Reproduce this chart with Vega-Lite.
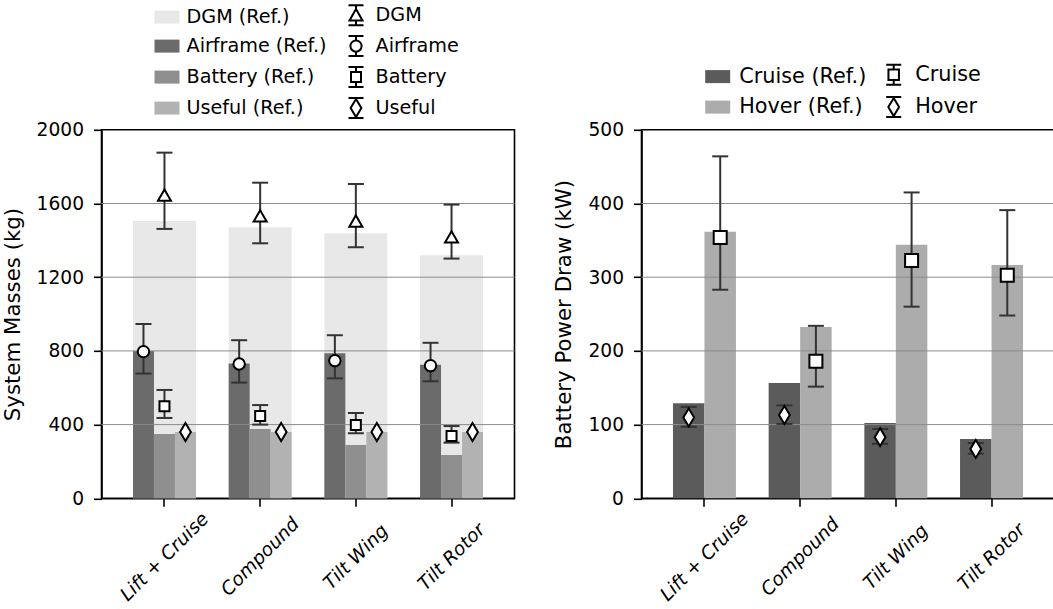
{
  "$schema": "https://vega.github.io/schema/vega-lite/v6.json",
  "background": "white",
  "padding": {"left": 0.5, "top": 0.8, "right": 0, "bottom": 0},
  "spacing": 36,
  "datasets": {
    "mass": [
      {"config": "Lift + Cruise", "comp": "DGM", "ref": 1505, "val": 1645, "lo": 1462, "hi": 1876},
      {"config": "Lift + Cruise", "comp": "Airframe", "ref": 800, "val": 796, "lo": 677, "hi": 946},
      {"config": "Lift + Cruise", "comp": "Battery", "ref": 349, "val": 499, "lo": 436, "hi": 588},
      {"config": "Lift + Cruise", "comp": "Useful", "ref": 360, "val": 360},
      {"config": "Compound", "comp": "DGM", "ref": 1471, "val": 1533, "lo": 1384, "hi": 1713},
      {"config": "Compound", "comp": "Airframe", "ref": 731, "val": 729, "lo": 628, "hi": 858},
      {"config": "Compound", "comp": "Battery", "ref": 376, "val": 447, "lo": 400, "hi": 506},
      {"config": "Compound", "comp": "Useful", "ref": 360, "val": 360},
      {"config": "Tilt Wing", "comp": "DGM", "ref": 1438, "val": 1505, "lo": 1362, "hi": 1706},
      {"config": "Tilt Wing", "comp": "Airframe", "ref": 787, "val": 747, "lo": 651, "hi": 885},
      {"config": "Tilt Wing", "comp": "Battery", "ref": 289, "val": 398, "lo": 353, "hi": 463},
      {"config": "Tilt Wing", "comp": "Useful", "ref": 360, "val": 360},
      {"config": "Tilt Rotor", "comp": "DGM", "ref": 1319, "val": 1419, "lo": 1301, "hi": 1594},
      {"config": "Tilt Rotor", "comp": "Airframe", "ref": 725, "val": 720, "lo": 635, "hi": 844},
      {"config": "Tilt Rotor", "comp": "Battery", "ref": 235, "val": 338, "lo": 302, "hi": 392},
      {"config": "Tilt Rotor", "comp": "Useful", "ref": 360, "val": 360}
    ],
    "power": [
      {"config": "Lift + Cruise", "mode": "Cruise", "ref": 129, "val": 109.5, "lo": 97, "hi": 124},
      {"config": "Lift + Cruise", "mode": "Hover", "ref": 361.5, "val": 354, "lo": 283, "hi": 464},
      {"config": "Compound", "mode": "Cruise", "ref": 156.5, "val": 113, "lo": 101, "hi": 126},
      {"config": "Compound", "mode": "Hover", "ref": 232.5, "val": 186, "lo": 151.5, "hi": 234},
      {"config": "Tilt Wing", "mode": "Cruise", "ref": 102, "val": 83, "lo": 74, "hi": 94},
      {"config": "Tilt Wing", "mode": "Hover", "ref": 344, "val": 322.5, "lo": 260, "hi": 415},
      {"config": "Tilt Rotor", "mode": "Cruise", "ref": 80.5, "val": 67, "lo": 60.5, "hi": 75},
      {"config": "Tilt Rotor", "mode": "Hover", "ref": 316.5, "val": 302.7, "lo": 248, "hi": 391}
    ],
    "massGrid": [{"value": 400}, {"value": 800}, {"value": 1200}, {"value": 1600}],
    "powerGrid": [{"value": 100}, {"value": 200}, {"value": 300}, {"value": 400}]
  },
  "resolve": {
    "scale": {"fill": "independent", "stroke": "independent", "shape": "independent", "xOffset": "independent"},
    "legend": {"fill": "independent", "stroke": "independent", "shape": "independent"}
  },
  "hconcat": [
    {
      "width": 413,
      "height": 368.5,
      "data": {"name": "mass"},
      "layer": [
        {
          "transform": [{"filter": "datum.comp == 'DGM'"}],
          "mark": {"type": "bar", "width": {"band": 0.658}, "opacity": 1},
          "encoding": {
            "x": {"field": "config", "type": "nominal", "title": null, "scale": {"domain": ["Lift + Cruise", "Compound", "Tilt Wing", "Tilt Rotor"], "paddingInner": 0, "paddingOuter": 0.158}, "axis": {"labelAngle": -45, "labelAlign": "center", "labelBaseline": "middle", "labelPadding": 50, "labelFontStyle": "italic", "labelOverlap": false, "labelBound": false, "labelFlush": false}},
            "y": {"field": "ref", "type": "quantitative", "title": "System Masses (kg)", "stack": null, "scale": {"domain": [0, 2000], "nice": false}, "axis": {"values": [0, 400, 800, 1200, 1600, 2000], "format": "d"}},
            "fill": {"field": "comp", "type": "nominal", "scale": {"domain": ["DGM", "Airframe", "Battery", "Useful", "DGM ", "Airframe ", "Battery ", "Useful "], "range": ["#e8e8e8", "#6b6b6b", "#8f8f8f", "#b2b2b2", "white", "white", "white", "white"]},
              "legend": {"orient": "none", "legendX": 52, "legendY": -128.2, "columns": 2, "title": null, "labelExpr": "test(/ $/, datum.label) ? trim(datum.label) : datum.label + ' (Ref.)'", "symbolSize": 625, "symbolStrokeWidth": 2, "symbolFillColor": "white", "symbolStrokeColor": "black", "labelFontSize": 19.2, "labelOffset": 6, "columnPadding": 15, "rowPadding": 2, "padding": 0}}
          }
        },
        {
          "transform": [{"filter": "datum.comp != 'DGM'"}],
          "mark": {"type": "bar", "opacity": 1},
          "encoding": {
            "x": {"field": "config", "type": "nominal", "title": null, "scale": {"domain": ["Lift + Cruise", "Compound", "Tilt Wing", "Tilt Rotor"], "paddingInner": 0, "paddingOuter": 0.158}},
            "xOffset": {"field": "comp", "type": "nominal", "scale": {"domain": ["Airframe", "Battery", "Useful"], "paddingInner": 0, "paddingOuter": 0.779}},
            "y": {"field": "ref", "type": "quantitative", "title": "System Masses (kg)", "stack": null},
            "fill": {"field": "comp", "type": "nominal",
              "legend": {"orient": "none", "legendX": 52, "legendY": -128.2, "columns": 2, "title": null, "labelExpr": "test(/ $/, datum.label) ? trim(datum.label) : datum.label + ' (Ref.)'", "symbolSize": 625, "symbolStrokeWidth": 2, "symbolFillColor": "white", "symbolStrokeColor": "black", "labelFontSize": 19.2, "labelOffset": 6, "columnPadding": 15, "rowPadding": 2, "padding": 0}}
          }
        },
        {
          "data": {"name": "massGrid"},
          "mark": {"type": "rule", "color": "#8c8c8c", "strokeWidth": 1},
          "encoding": {"y": {"field": "value", "type": "quantitative", "title": "System Masses (kg)"}}
        },
        {
          "transform": [{"filter": "datum.comp == 'DGM'"}],
          "mark": {"type": "rule", "color": "#333333", "strokeWidth": 2},
          "encoding": {
            "x": {"field": "config", "type": "nominal", "title": null},
            "y": {"field": "lo", "type": "quantitative", "title": "System Masses (kg)"},
            "y2": {"field": "hi"}
          }
        },
        {
          "transform": [{"filter": "datum.comp == 'DGM'"}],
          "mark": {"type": "tick", "orient": "horizontal", "size": 16, "thickness": 2, "color": "#333333", "opacity": 1},
          "encoding": {
            "x": {"field": "config", "type": "nominal", "title": null},
            "y": {"field": "lo", "type": "quantitative", "title": "System Masses (kg)"}
          }
        },
        {
          "transform": [{"filter": "datum.comp == 'DGM'"}],
          "mark": {"type": "tick", "orient": "horizontal", "size": 16, "thickness": 2, "color": "#333333", "opacity": 1},
          "encoding": {
            "x": {"field": "config", "type": "nominal", "title": null},
            "y": {"field": "hi", "type": "quantitative", "title": "System Masses (kg)"}
          }
        },
        {
          "transform": [{"filter": "datum.comp != 'DGM' && isValid(datum.lo)"}],
          "mark": {"type": "rule", "color": "#333333", "strokeWidth": 2},
          "encoding": {
            "x": {"field": "config", "type": "nominal", "title": null},
            "xOffset": {"field": "comp", "type": "nominal"},
            "y": {"field": "lo", "type": "quantitative", "title": "System Masses (kg)"},
            "y2": {"field": "hi"}
          }
        },
        {
          "transform": [{"filter": "datum.comp != 'DGM' && isValid(datum.lo)"}],
          "mark": {"type": "tick", "orient": "horizontal", "size": 16, "thickness": 2, "color": "#333333", "opacity": 1},
          "encoding": {
            "x": {"field": "config", "type": "nominal", "title": null},
            "xOffset": {"field": "comp", "type": "nominal"},
            "y": {"field": "lo", "type": "quantitative", "title": "System Masses (kg)"}
          }
        },
        {
          "transform": [{"filter": "datum.comp != 'DGM' && isValid(datum.lo)"}],
          "mark": {"type": "tick", "orient": "horizontal", "size": 16, "thickness": 2, "color": "#333333", "opacity": 1},
          "encoding": {
            "x": {"field": "config", "type": "nominal", "title": null},
            "xOffset": {"field": "comp", "type": "nominal"},
            "y": {"field": "hi", "type": "quantitative", "title": "System Masses (kg)"}
          }
        },
        {
          "transform": [{"filter": "datum.comp == 'DGM'"}],
          "mark": {"type": "point", "shape": "triangle-up", "size": 169, "filled": true, "fill": "white", "stroke": "black", "strokeWidth": 2, "opacity": 1},
          "encoding": {
            "x": {"field": "config", "type": "nominal", "title": null},
            "y": {"field": "val", "type": "quantitative", "title": "System Masses (kg)"}
          }
        },
        {
          "transform": [{"filter": "datum.comp == 'Airframe'"}],
          "mark": {"type": "point", "shape": "circle", "size": 130, "filled": true, "fill": "white", "stroke": "black", "strokeWidth": 2, "opacity": 1},
          "encoding": {
            "x": {"field": "config", "type": "nominal", "title": null},
            "xOffset": {"field": "comp", "type": "nominal"},
            "y": {"field": "val", "type": "quantitative", "title": "System Masses (kg)"}
          }
        },
        {
          "transform": [{"filter": "datum.comp == 'Battery'"}],
          "mark": {"type": "point", "shape": "square", "size": 100, "filled": true, "fill": "white", "stroke": "black", "strokeWidth": 2, "opacity": 1},
          "encoding": {
            "x": {"field": "config", "type": "nominal", "title": null},
            "xOffset": {"field": "comp", "type": "nominal"},
            "y": {"field": "val", "type": "quantitative", "title": "System Masses (kg)"}
          }
        },
        {
          "transform": [{"filter": "datum.comp == 'Useful'"}],
          "mark": {"type": "point", "shape": "M0,-1L0.6,0L0,1L-0.6,0Z", "size": 324, "filled": true, "fill": "white", "stroke": "black", "strokeWidth": 2, "opacity": 1},
          "encoding": {
            "x": {"field": "config", "type": "nominal", "title": null},
            "xOffset": {"field": "comp", "type": "nominal"},
            "y": {"field": "val", "type": "quantitative", "title": "System Masses (kg)"}
          }
        },
        {
          "transform": [{"filter": "false"}],
          "mark": {"type": "point", "filled": true, "strokeWidth": 2, "opacity": 1},
          "encoding": {
            "x": {"field": "config", "type": "nominal", "title": null},
            "y": {"field": "val", "type": "quantitative", "title": "System Masses (kg)"},
            "fill": {"field": "comp", "type": "nominal",
              "legend": {"orient": "none", "legendX": 52, "legendY": -128.2, "columns": 2, "title": null, "labelExpr": "test(/ $/, datum.label) ? trim(datum.label) : datum.label + ' (Ref.)'", "symbolSize": 625, "symbolStrokeWidth": 2, "symbolFillColor": "white", "symbolStrokeColor": "black", "labelFontSize": 19.2, "labelOffset": 6, "columnPadding": 15, "rowPadding": 2, "padding": 0}},
            "stroke": {"field": "comp", "type": "nominal", "scale": {"domain": ["DGM", "Airframe", "Battery", "Useful", "DGM ", "Airframe ", "Battery ", "Useful "], "range": ["transparent", "transparent", "transparent", "transparent", "black", "black", "black", "black"]},
              "legend": {"orient": "none", "legendX": 52, "legendY": -128.2, "columns": 2, "title": null, "labelExpr": "test(/ $/, datum.label) ? trim(datum.label) : datum.label + ' (Ref.)'", "symbolSize": 625, "symbolStrokeWidth": 2, "symbolFillColor": "white", "symbolStrokeColor": "black", "labelFontSize": 19.2, "labelOffset": 6, "columnPadding": 15, "rowPadding": 2, "padding": 0}},
            "shape": {"field": "comp", "type": "nominal", "scale": {"domain": ["DGM", "Airframe", "Battery", "Useful", "DGM ", "Airframe ", "Battery ", "Useful "], "range": [
                "M-1,-0.52H1V0.52H-1Z",
                "M-1,-0.52H1V0.52H-1Z",
                "M-1,-0.52H1V0.52H-1Z",
                "M-1,-0.52H1V0.52H-1Z",
                "M-0.6,-0.8H0.6M-0.6,0.8H0.6M0,-0.8V-0.5M0,0.42V0.8M0,-0.5L0.52,0.42L-0.52,0.42Z",
                "M-0.6,-0.8H0.6M-0.6,0.8H0.6M0,-0.8V-0.45M0,0.45V0.8M0.45,0A0.45,0.45,0,1,1,-0.45,0A0.45,0.45,0,1,1,0.45,0Z",
                "M-0.6,-0.8H0.6M-0.6,0.8H0.6M0,-0.8V-0.4M0,0.4V0.8M-0.4,-0.4H0.4V0.4H-0.4Z",
                "M-0.6,-0.8H0.6M-0.6,0.8H0.6M0,-0.8V-0.72M0,0.72V0.8M0,-0.72L0.43,0L0,0.72L-0.43,0Z"
              ]},
              "legend": {"orient": "none", "legendX": 52, "legendY": -128.2, "columns": 2, "title": null, "labelExpr": "test(/ $/, datum.label) ? trim(datum.label) : datum.label + ' (Ref.)'", "symbolSize": 625, "symbolStrokeWidth": 2, "symbolFillColor": "white", "symbolStrokeColor": "black", "labelFontSize": 19.2, "labelOffset": 6, "columnPadding": 15, "rowPadding": 2, "padding": 0}}
          }
        }
      ]
    },
    {
      "width": 413,
      "height": 368.5,
      "data": {"name": "power"},
      "layer": [
        {
          "mark": {"type": "bar", "opacity": 1},
          "encoding": {
            "x": {"field": "config", "type": "nominal", "title": null, "scale": {"domain": ["Lift + Cruise", "Compound", "Tilt Wing", "Tilt Rotor"], "paddingInner": 0, "paddingOuter": 0.158}, "axis": {"labelAngle": -45, "labelAlign": "center", "labelBaseline": "middle", "labelPadding": 50, "labelFontStyle": "italic", "labelOverlap": false, "labelBound": false, "labelFlush": false}},
            "xOffset": {"field": "mode", "type": "nominal", "scale": {"domain": ["Cruise", "Hover"], "paddingInner": 0, "paddingOuter": 0.519}},
            "y": {"field": "ref", "type": "quantitative", "title": "Battery Power Draw (kW)", "stack": null, "scale": {"domain": [0, 500], "nice": false}, "axis": {"values": [0, 100, 200, 300, 400, 500], "format": "d"}},
            "fill": {"field": "mode", "type": "nominal", "scale": {"domain": ["Cruise", "Hover", "Cruise ", "Hover "], "range": ["#5b5b5b", "#acacac", "white", "white"]},
              "legend": {"orient": "none", "legendX": 62.7, "legendY": -68.7, "columns": 2, "title": null, "labelExpr": "test(/ $/, datum.label) ? trim(datum.label) : datum.label + ' (Ref.)'", "symbolSize": 625, "symbolStrokeWidth": 2, "symbolFillColor": "white", "symbolStrokeColor": "black", "labelFontSize": 20.8, "labelOffset": 8, "columnPadding": 13, "rowPadding": 3.5, "padding": 0}}
          }
        },
        {
          "data": {"name": "powerGrid"},
          "mark": {"type": "rule", "color": "#8c8c8c", "strokeWidth": 1},
          "encoding": {"y": {"field": "value", "type": "quantitative", "title": "Battery Power Draw (kW)"}}
        },
        {
          "mark": {"type": "rule", "color": "#333333", "strokeWidth": 2},
          "encoding": {
            "x": {"field": "config", "type": "nominal", "title": null},
            "xOffset": {"field": "mode", "type": "nominal"},
            "y": {"field": "lo", "type": "quantitative", "title": "Battery Power Draw (kW)"},
            "y2": {"field": "hi"}
          }
        },
        {
          "mark": {"type": "tick", "orient": "horizontal", "size": 16, "thickness": 2, "color": "#333333", "opacity": 1},
          "encoding": {
            "x": {"field": "config", "type": "nominal", "title": null},
            "xOffset": {"field": "mode", "type": "nominal"},
            "y": {"field": "lo", "type": "quantitative", "title": "Battery Power Draw (kW)"}
          }
        },
        {
          "mark": {"type": "tick", "orient": "horizontal", "size": 16, "thickness": 2, "color": "#333333", "opacity": 1},
          "encoding": {
            "x": {"field": "config", "type": "nominal", "title": null},
            "xOffset": {"field": "mode", "type": "nominal"},
            "y": {"field": "hi", "type": "quantitative", "title": "Battery Power Draw (kW)"}
          }
        },
        {
          "transform": [{"filter": "datum.mode == 'Cruise'"}],
          "mark": {"type": "point", "shape": "M0,-1L0.6,0L0,1L-0.6,0Z", "size": 324, "filled": true, "fill": "white", "stroke": "black", "strokeWidth": 2, "opacity": 1},
          "encoding": {
            "x": {"field": "config", "type": "nominal", "title": null},
            "xOffset": {"field": "mode", "type": "nominal"},
            "y": {"field": "val", "type": "quantitative", "title": "Battery Power Draw (kW)"}
          }
        },
        {
          "transform": [{"filter": "datum.mode == 'Hover'"}],
          "mark": {"type": "point", "shape": "square", "size": 169, "filled": true, "fill": "white", "stroke": "black", "strokeWidth": 2, "opacity": 1},
          "encoding": {
            "x": {"field": "config", "type": "nominal", "title": null},
            "xOffset": {"field": "mode", "type": "nominal"},
            "y": {"field": "val", "type": "quantitative", "title": "Battery Power Draw (kW)"}
          }
        },
        {
          "transform": [{"filter": "false"}],
          "mark": {"type": "point", "filled": true, "strokeWidth": 2, "opacity": 1},
          "encoding": {
            "x": {"field": "config", "type": "nominal", "title": null},
            "y": {"field": "val", "type": "quantitative", "title": "Battery Power Draw (kW)"},
            "fill": {"field": "mode", "type": "nominal",
              "legend": {"orient": "none", "legendX": 62.7, "legendY": -68.7, "columns": 2, "title": null, "labelExpr": "test(/ $/, datum.label) ? trim(datum.label) : datum.label + ' (Ref.)'", "symbolSize": 625, "symbolStrokeWidth": 2, "symbolFillColor": "white", "symbolStrokeColor": "black", "labelFontSize": 20.8, "labelOffset": 8, "columnPadding": 13, "rowPadding": 3.5, "padding": 0}},
            "stroke": {"field": "mode", "type": "nominal", "scale": {"domain": ["Cruise", "Hover", "Cruise ", "Hover "], "range": ["transparent", "transparent", "black", "black"]},
              "legend": {"orient": "none", "legendX": 62.7, "legendY": -68.7, "columns": 2, "title": null, "labelExpr": "test(/ $/, datum.label) ? trim(datum.label) : datum.label + ' (Ref.)'", "symbolSize": 625, "symbolStrokeWidth": 2, "symbolFillColor": "white", "symbolStrokeColor": "black", "labelFontSize": 20.8, "labelOffset": 8, "columnPadding": 13, "rowPadding": 3.5, "padding": 0}},
            "shape": {"field": "mode", "type": "nominal", "scale": {"domain": ["Cruise", "Hover", "Cruise ", "Hover "], "range": [
                "M-1,-0.52H1V0.52H-1Z",
                "M-1,-0.52H1V0.52H-1Z",
                "M-0.6,-0.8H0.6M-0.6,0.8H0.6M0,-0.8V-0.42M0,0.42V0.8M-0.42,-0.42H0.42V0.42H-0.42Z",
                "M-0.6,-0.8H0.6M-0.6,0.8H0.6M0,-0.8V-0.72M0,0.72V0.8M0,-0.72L0.43,0L0,0.72L-0.43,0Z"
              ]},
              "legend": {"orient": "none", "legendX": 62.7, "legendY": -68.7, "columns": 2, "title": null, "labelExpr": "test(/ $/, datum.label) ? trim(datum.label) : datum.label + ' (Ref.)'", "symbolSize": 625, "symbolStrokeWidth": 2, "symbolFillColor": "white", "symbolStrokeColor": "black", "labelFontSize": 20.8, "labelOffset": 8, "columnPadding": 13, "rowPadding": 3.5, "padding": 0}}
          }
        }
      ]
    }
  ],
  "config": {
    "font": "DejaVu Sans",
    "view": {"stroke": "black", "strokeWidth": 1.6},
    "axis": {
      "labelFontSize": 18.67, "titleFontSize": 21.33, "titleFontWeight": "normal",
      "labelColor": "black", "titleColor": "black",
      "domainColor": "black", "domainWidth": 1.6,
      "tickColor": "black", "tickWidth": 1.6, "tickSize": 8,
      "grid": false, "labelPadding": 10, "titlePadding": 13
    },
    "legend": {"labelColor": "black", "padding": 0, "symbolOpacity": 1}
  }
}
